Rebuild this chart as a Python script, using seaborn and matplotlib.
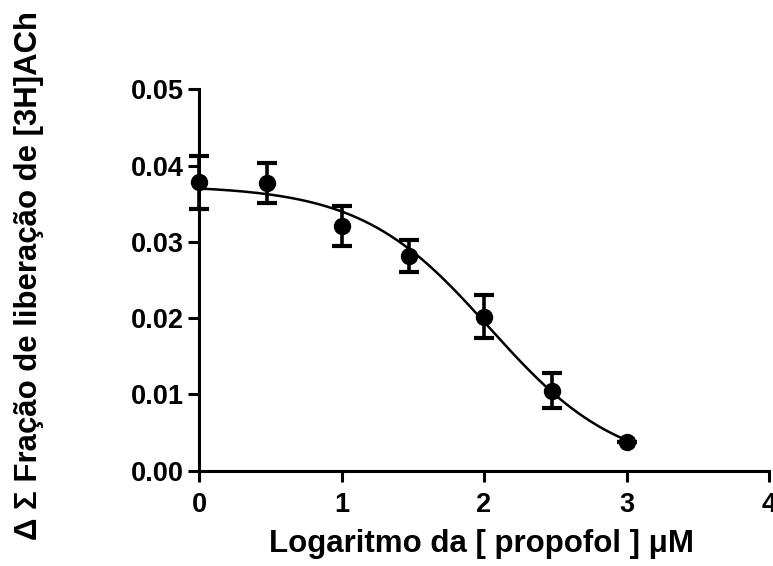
import numpy as np
import pandas as pd
import matplotlib
matplotlib.use("Agg")
import matplotlib.pyplot as plt
import seaborn as sns

# Data
log_conc = [0.0, 0.477, 1.0, 1.477, 2.0, 2.477, 3.0]
fraction = [0.0378, 0.0377, 0.0321, 0.0281, 0.0202, 0.0105, 0.0037]
sem = [0.0035, 0.0026, 0.0026, 0.0021, 0.0028, 0.0023, 0.0]

# Fitted sigmoid (Hill) parameters, as drawn in the reference
fit_top = 0.0374
fit_bottom = 0.0
fit_logic50 = 2.04
fit_hill = 0.96

x_ticks = [0, 1, 2, 3, 4]
y_ticks = [0.00, 0.01, 0.02, 0.03, 0.04, 0.05]
x_label = "Logaritmo da [ propofol ] μM"
y_label = "Δ Σ Fração de liberação de [3H]ACh"

sns.set_theme(style="ticks")
plt.rcParams['font.family'] = ['Liberation Sans', 'DejaVu Sans']
plt.rcParams['font.weight'] = 'bold'

fig = plt.figure(figsize=(7.73, 5.66), dpi=100)
ax = fig.add_axes([199/773, 1 - 470.7/566, (769 - 199)/773, (470.7 - 89.3)/566])

xc = np.linspace(min(log_conc), max(log_conc), 200)
yc = fit_bottom + (fit_top - fit_bottom) / (1 + 10 ** ((xc - fit_logic50) * fit_hill))
curve = pd.DataFrame({"x": xc, "y": yc})
sns.lineplot(data=curve, x="x", y="y", ax=ax, color="black", linewidth=1.8)

eb = ax.errorbar(log_conc, fraction, yerr=sem, fmt="o", color="black", markersize=11.5,
                 elinewidth=2.6, capsize=7, capthick=3, zorder=5)
eb[0].set_clip_on(False)
for c in eb[1]:
    c.set_clip_on(False)
for c in eb[2]:
    c.set_clip_on(False)

ax.set_xlim(0, 4)
ax.set_ylim(0, 0.05)
ax.set_xticks(x_ticks)
ax.set_yticks(y_ticks)
ax.set_yticklabels([f"{v:.2f}" for v in y_ticks])
for s in ["top", "right"]:
    ax.spines[s].set_visible(False)
for s in ["left", "bottom"]:
    ax.spines[s].set_linewidth(2.2)
    ax.spines[s].set_color("black")
ax.tick_params(axis="both", width=2.2, length=8, color="black", labelsize=19.5, labelcolor="black")
ax.tick_params(axis="x", pad=7.5)
ax.tick_params(axis="y", pad=3)
for lbl in ax.get_xticklabels() + ax.get_yticklabels():
    lbl.set_fontweight("bold")

ax.set_xlabel(x_label, fontsize=22.5, fontweight="bold", color="black")
ax.set_ylabel(y_label, fontsize=22.4, fontweight="bold", color="black")
ax.xaxis.set_label_coords(0.495, -0.152)
ax.yaxis.set_label_coords(-0.272, 0.512)
ax.grid(False)

fig.savefig("out.png", dpi=100)
